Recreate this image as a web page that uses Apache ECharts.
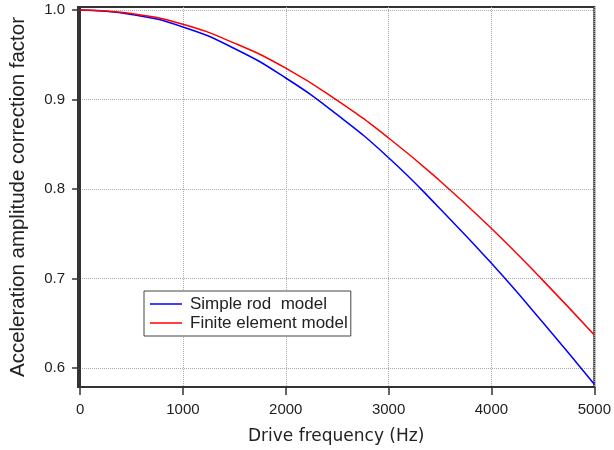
<!DOCTYPE html>
<html>
<head>
<meta charset="utf-8">
<script src="https://cdn.jsdelivr.net/npm/echarts@6/dist/echarts.min.js"></script>
<style>html,body{margin:0;padding:0;background:#fff;}#c{width:614px;height:450px;}</style>
</head>
<body>
<div id="c"></div>
<script>
var frequency = [0, 500, 1000, 1500, 2000, 2500, 3000, 3500, 4000, 4500, 5000];
var simpleRod = [1.000, 0.995, 0.981, 0.957, 0.924, 0.883, 0.835, 0.778, 0.717, 0.651, 0.582];
var finiteElement = [1.000, 0.996, 0.984, 0.963, 0.935, 0.899, 0.857, 0.809, 0.756, 0.698, 0.637];
var xTicks = [0, 1000, 2000, 3000, 4000, 5000];
var yTicks = [0.6, 0.7, 0.8, 0.9, 1.0];
var seriesNames = ['Simple rod  model', 'Finite element model'];

function pairs(xs, ys) { return xs.map(function (x, i) { return [x, ys[i]]; }); }

var chart = echarts.init(document.getElementById('c'), null, { renderer: 'canvas' });
var tickFont = { fontFamily: 'Liberation Sans', fontSize: 15, color: '#222' };
chart.setOption({
  animation: false,
  backgroundColor: '#fff',
  grid: { left: 76, right: 16, top: 7, bottom: 61, show: true, borderColor: '#333', borderWidth: 2, backgroundColor: 'transparent' },
  legend: {
    orient: 'vertical', left: 144, top: 291,
    data: [{ name: seriesNames[0], icon: 'rect' }, { name: seriesNames[1], icon: 'rect' }],
    backgroundColor: '#fff', borderColor: '#444', borderWidth: 1, borderRadius: 0,
    padding: [4, 3, 4, 6], itemGap: 1, itemWidth: 32, itemHeight: 1.5,
    textStyle: { fontFamily: 'Liberation Sans', fontSize: 17, color: '#222', lineHeight: 18, padding: [0, 0, 0, 3] }
  },
  xAxis: {
    type: 'value', min: -20, max: 5000,
    name: 'Drive frequency (Hz)', nameLocation: 'middle', nameGap: 41,
    nameTextStyle: { fontFamily: 'DejaVu Sans', fontSize: 17, color: '#222' },
    axisLine: { show: true, lineStyle: { color: '#333', width: 2 } },
    axisTick: { show: true, customValues: xTicks, length: 8, lineStyle: { color: '#333', width: 1.5 } },
    axisLabel: Object.assign({ customValues: xTicks, margin: 15, formatter: function (v) { return String(v); } }, tickFont),
    splitLine: { show: true, lineStyle: { color: '#aaa', type: [1, 1], width: 1 } }
  },
  yAxis: {
    type: 'value', min: 0.5789, max: 1.0033,
    name: 'Acceleration amplitude correction factor', nameLocation: 'middle', nameGap: 49,
    nameTextStyle: { fontFamily: 'Liberation Sans', fontSize: 20.5, color: '#222' },
    axisLine: { show: true, lineStyle: { color: '#333', width: 2 } },
    axisTick: { show: true, customValues: yTicks, length: 8, lineStyle: { color: '#333', width: 1.5 } },
    axisLabel: Object.assign({ customValues: yTicks, margin: 13, formatter: function (v) { return v.toFixed(1); } }, tickFont),
    splitLine: { show: true, lineStyle: { color: '#aaa', type: [1, 1], width: 1 } }
  },
  series: [
    { name: seriesNames[0], type: 'line', data: pairs(frequency, simpleRod), smooth: true, symbol: 'none',
      lineStyle: { color: '#0000ff', width: 1.5 }, itemStyle: { color: '#0000ff' } },
    { name: seriesNames[1], type: 'line', data: pairs(frequency, finiteElement), smooth: true, symbol: 'none',
      lineStyle: { color: '#ff0000', width: 1.5 }, itemStyle: { color: '#ff0000' } }
  ]
});
</script>
</body>
</html>
